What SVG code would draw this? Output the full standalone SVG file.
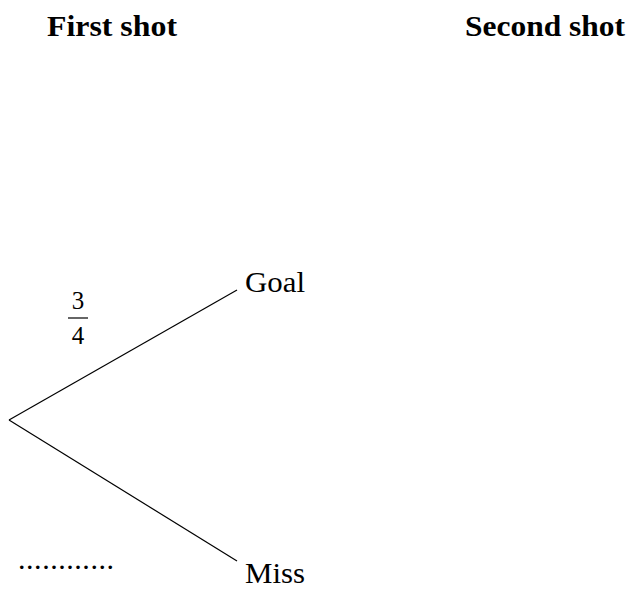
<svg xmlns="http://www.w3.org/2000/svg" width="634" height="590" viewBox="0 0 634 590">
<style>
.h{font-family:"Liberation Serif","Times New Roman",serif;font-weight:bold;font-size:29px;fill:#000}
.t{font-family:"Liberation Serif","Times New Roman",serif;font-size:29px;fill:#000}
.f{font-family:"Liberation Serif","Times New Roman",serif;font-size:25px;fill:#000}
.d{font-family:"Liberation Serif","Times New Roman",serif;font-size:30px;fill:#000}
.c line{stroke:#000;stroke-width:1.2}
</style>
<rect width="634" height="590" fill="#fff"/>
<g id="headers">
<text class="h" x="47" y="36" textLength="130" lengthAdjust="spacingAndGlyphs">First shot</text>
<text class="h" x="465" y="36" textLength="160" lengthAdjust="spacingAndGlyphs">Second shot</text>
</g>
<g class="c" id="connectors">
<line x1="9" y1="420" x2="237" y2="290"/>
<line x1="9" y1="420" x2="237" y2="561"/>
</g>
<g id="node-goal"><text class="t" x="245" y="292" textLength="60" lengthAdjust="spacingAndGlyphs">Goal</text></g>
<g id="node-miss"><text class="t" x="245" y="583" textLength="60" lengthAdjust="spacingAndGlyphs">Miss</text></g>
<g id="label-prob">
<text class="f" x="78" y="309" text-anchor="middle">3</text>
<line x1="68" y1="318" x2="88" y2="318" stroke="#000" stroke-width="1.2"/>
<text class="f" x="78" y="344" text-anchor="middle">4</text>
</g>
<g id="label-blank"><text class="d" x="18" y="569" textLength="96" lengthAdjust="spacing">............</text></g>
</svg>
